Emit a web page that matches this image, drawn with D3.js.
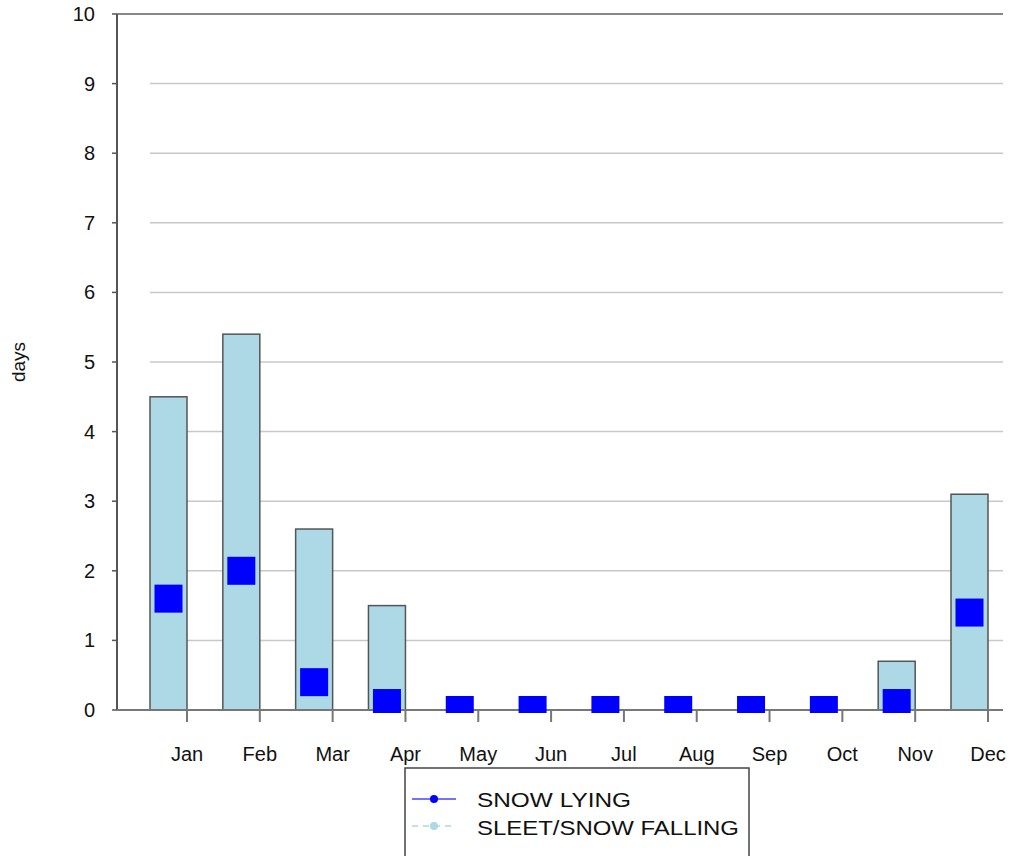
<!DOCTYPE html>
<html><head><meta charset="utf-8">
<script src="https://cdn.jsdelivr.net/npm/d3@7"></script>
<style>body{margin:0;background:#fff;font-family:"Liberation Sans",Arial,sans-serif}</style>
</head><body><svg id="c" width="1017" height="856"></svg>
<script>
const months = ['Jan','Feb','Mar','Apr','May','Jun','Jul','Aug','Sep','Oct','Nov','Dec'];
const sleetSnowFalling = [4.5, 5.4, 2.6, 1.5, 0, 0, 0, 0, 0, 0, 0.7, 3.1];
const snowLying = [1.6, 2.0, 0.4, 0.1, 0, 0, 0, 0, 0, 0, 0.1, 1.4];
const yTicks = d3.range(0, 11);

const svg = d3.select('#c');
const pLeft = 117, pRight = 1003, pTop = 14, pBottom = 710;
const y = d3.scaleLinear().domain([0, 10]).range([pBottom, pTop]);
// month ticks sit at the right edge of each bar
const x = d3.scaleLinear().domain([0, 11]).range([187, 988]);
const barW = 37, markW = 28, markH = 28;

svg.append('defs').append('clipPath').attr('id', 'clip')
  .append('rect').attr('x', pLeft).attr('y', pTop).attr('width', pRight - pLeft).attr('height', pBottom - pTop + 3);

// gridlines
svg.append('g').selectAll('line').data(yTicks.filter(d => d > 0 && d < 10)).join('line')
  .attr('x1', 150).attr('x2', pRight).attr('y1', d => y(d)).attr('y2', d => y(d))
  .attr('stroke', '#c8c8c8').attr('stroke-width', 1.5);
svg.append('line').attr('x1', pLeft).attr('x2', pRight).attr('y1', y(10)).attr('y2', y(10))
  .attr('stroke', '#888').attr('stroke-width', 2);

// bars
svg.append('g').selectAll('rect').data(sleetSnowFalling.map((v, i) => ({ v, i })).filter(d => d.v > 0)).join('rect')
  .attr('x', d => x(d.i) - barW).attr('width', barW)
  .attr('y', d => y(d.v)).attr('height', d => pBottom - y(d.v))
  .attr('fill', '#add8e6').attr('stroke', '#555').attr('stroke-width', 1.5);

// axes
svg.append('line').attr('x1', pLeft).attr('x2', pLeft).attr('y1', pTop).attr('y2', pBottom)
  .attr('stroke', '#555').attr('stroke-width', 2);
svg.append('line').attr('x1', pLeft).attr('x2', pRight).attr('y1', pBottom).attr('y2', pBottom)
  .attr('stroke', '#777').attr('stroke-width', 2);

// snow lying markers
svg.append('g').attr('clip-path', 'url(#clip)').selectAll('rect').data(snowLying).join('rect')
  .attr('x', (d, i) => x(i) - barW / 2 - markW / 2).attr('width', markW)
  .attr('y', d => y(d) - markH / 2).attr('height', markH)
  .attr('fill', '#0000ff');

const yAx = svg.append('g');
yAx.selectAll('line').data(yTicks).join('line')
  .attr('x1', pLeft - 5).attr('x2', pLeft).attr('y1', d => y(d)).attr('y2', d => y(d))
  .attr('stroke', '#555').attr('stroke-width', 1.5);
yAx.selectAll('text').data(yTicks).join('text')
  .attr('x', pLeft - 22).attr('y', d => y(d) + 7).attr('text-anchor', 'end')
  .attr('font-size', 20).attr('fill', '#111').text(d => d);
svg.append('text').attr('transform', `translate(25,${y(5)}) rotate(-90)`)
  .attr('text-anchor', 'middle').attr('font-size', 19).attr('fill', '#111').text('days');

const xAx = svg.append('g');
xAx.selectAll('line').data(months).join('line')
  .attr('x1', (d, i) => x(i)).attr('x2', (d, i) => x(i)).attr('y1', pBottom).attr('y2', pBottom + 12)
  .attr('stroke', '#777').attr('stroke-width', 2);
xAx.selectAll('text').data(months).join('text')
  .attr('x', (d, i) => x(i)).attr('y', 761).attr('text-anchor', 'middle')
  .attr('font-size', 20).attr('fill', '#111').text(d => d);

// legend
const lg = svg.append('g').attr('transform', 'translate(405,768)');
lg.append('rect').attr('width', 344).attr('height', 90).attr('fill', '#fff').attr('stroke', '#444').attr('stroke-width', 1.5);
lg.append('line').attr('x1', 7).attr('x2', 51).attr('y1', 31).attr('y2', 31).attr('stroke', '#4444ff').attr('stroke-width', 1.5);
lg.append('circle').attr('cx', 29).attr('cy', 31).attr('r', 4).attr('fill', '#0000ff');
lg.append('line').attr('x1', 7).attr('x2', 51).attr('y1', 58).attr('y2', 58).attr('stroke', '#add8e6').attr('stroke-width', 1.5).attr('stroke-dasharray', '6,5');
lg.append('circle').attr('cx', 29).attr('cy', 58).attr('r', 4).attr('fill', '#add8e6');
lg.append('text').attr('x', 72).attr('y', 39).attr('font-size', 21).attr('fill', '#111').attr('textLength', 154).attr('lengthAdjust', 'spacingAndGlyphs').text('SNOW LYING');
lg.append('text').attr('x', 72).attr('y', 67).attr('font-size', 21).attr('fill', '#111').attr('textLength', 262).attr('lengthAdjust', 'spacingAndGlyphs').text('SLEET/SNOW FALLING');
</script></body></html>
